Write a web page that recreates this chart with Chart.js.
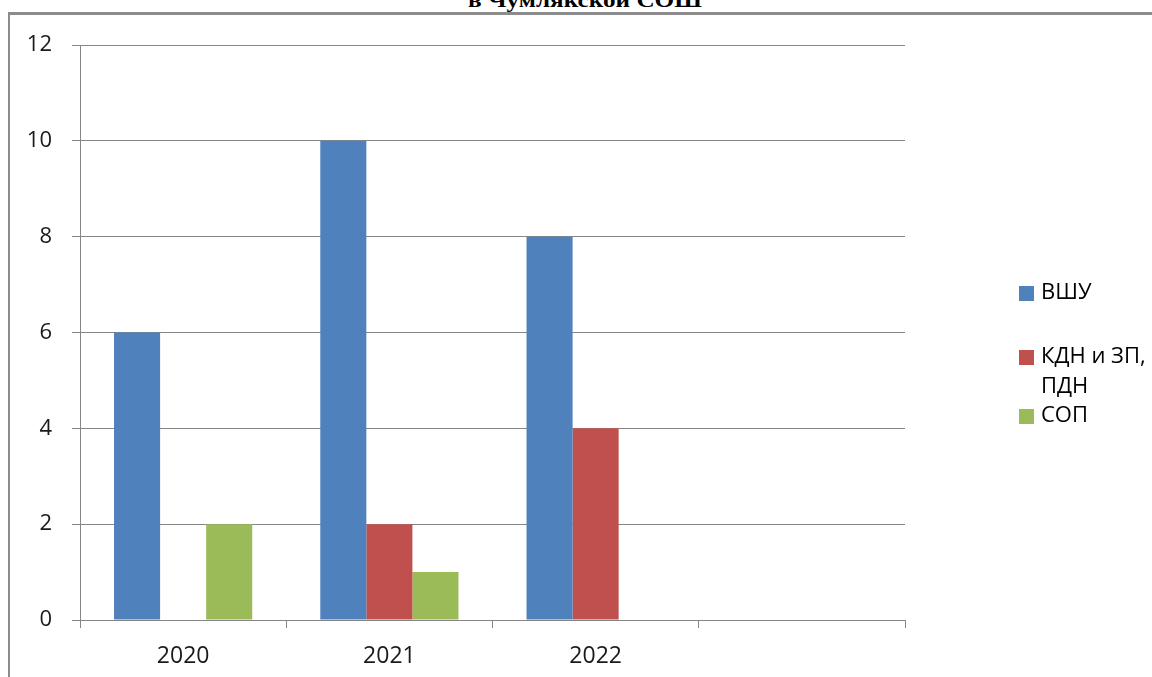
<!DOCTYPE html>
<html>
<head>
<meta charset="utf-8">
<script src="https://cdn.jsdelivr.net/npm/chart.js@4.4.1/dist/chart.umd.min.js"></script>
<style>
  html, body { margin: 0; padding: 0; background: #fff; overflow: hidden; }
  #wrap { position: relative; width: 1152px; height: 677px; }
  #frame { position: absolute; left: 8px; top: 12px; width: 1200px; height: 700px;
           border-left: 2px solid #8c8c8c; border-top: 3px solid #8c8c8c; }
  #title { position: absolute; left: 0; width: 1152px; top: -11px; text-align: center;
           font: bold 20px "Liberation Serif", "Times New Roman", serif; color: #000;
           transform: translateX(9px) scaleX(1.26); white-space: nowrap; }
  #chart { position: absolute; left: 0; top: 0; }
</style>
</head>
<body>
<div id="wrap">
  <div id="frame"></div>
  <div id="title">в Чумлякской СОШ</div>
  <canvas id="chart" width="1152" height="677"></canvas>
</div>
<script>
const categories = ['2020', '2021', '2022', ''];
const seriesNames = ['ВШУ', 'КДН и ЗП, ПДН', 'СОП'];
const vshu = [6, 10, 8, null];
const kdn = [0, 2, 4, null];
const sop = [2, 1, 0, null];
const colors = ['#4F81BD', '#C0504D', '#9BBB59'];

const gridColor = '#868686';
const fontFamily = '"Open Sans", sans-serif';

// легенда справа, как в Excel
const sideLegend = {
    id: 'sideLegend',
    afterDraw(chart) {
        const ctx = chart.ctx;
        const rows = [293, 357, 416];
        const lineH = 30;
        const boxX = 1019, textX = 1041, maxW = 108;
        ctx.save();
        ctx.font = '22px ' + fontFamily;
        ctx.textBaseline = 'middle';
        ctx.fillStyle = '#000';
        chart.data.datasets.forEach((ds, i) => {
            // перенос по словам
            const words = ds.label.split(' ');
            const lines = [];
            let cur = '';
            words.forEach(w => {
                const test = cur ? cur + ' ' + w : w;
                if (ctx.measureText(test).width > maxW && cur) {
                    lines.push(cur);
                    cur = w;
                } else {
                    cur = test;
                }
            });
            lines.push(cur);
            const y0 = rows[i];
            ctx.fillStyle = ds.backgroundColor;
            ctx.fillRect(boxX, y0 - 7, 15, 15);
            ctx.fillStyle = '#000';
            lines.forEach((l, k) => ctx.fillText(l, textX, y0 + k * lineH));
        });
        ctx.restore();
    }
};

const ctx = document.getElementById('chart').getContext('2d');
const chart = new Chart(ctx, {
    type: 'bar',
    data: {
        labels: categories,
        datasets: [
            { label: seriesNames[0], data: vshu, backgroundColor: colors[0] },
            { label: seriesNames[1], data: kdn, backgroundColor: colors[1] },
            { label: seriesNames[2], data: sop, backgroundColor: colors[2] }
        ]
    },
    options: {
        responsive: false,
        animation: false,
        layout: { padding: { left: 0, top: 45, right: 247, bottom: 0 } },
        datasets: { bar: { categoryPercentage: 0.67, barPercentage: 1.0, borderWidth: 0 } },
        plugins: {
            legend: { display: false },
            title: { display: false },
            tooltip: { enabled: false }
        },
        scales: {
            x: {
                afterFit: s => { s.height = 57; },
                grid: { offset: true, drawOnChartArea: false, drawTicks: true, tickLength: 8, color: gridColor },
                border: { color: gridColor },
                ticks: { font: { family: fontFamily, size: 23 }, color: '#1a1a1a', padding: 15, maxRotation: 0 }
            },
            y: {
                min: 0,
                max: 12,
                afterFit: s => { s.width = 80; },
                grid: { color: gridColor, tickLength: 8 },
                border: { color: gridColor },
                ticks: { stepSize: 2, font: { family: fontFamily, size: 22 }, color: '#1a1a1a', padding: 20 }
            }
        }
    },
    plugins: [sideLegend]
});
</script>
</body>
</html>
